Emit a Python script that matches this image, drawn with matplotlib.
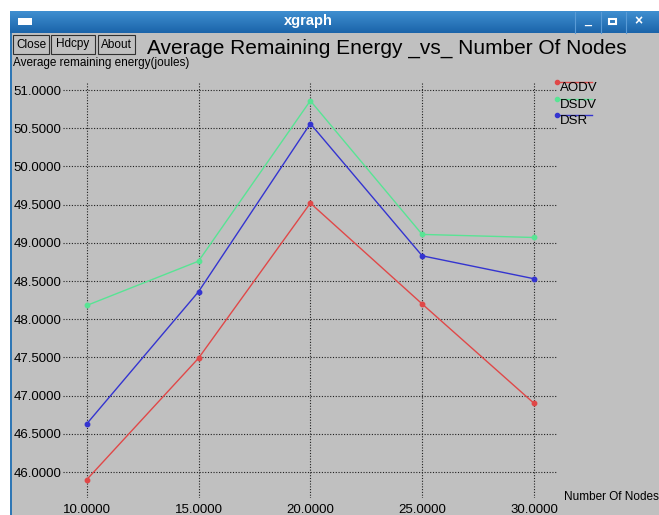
import matplotlib.pyplot as plt
from matplotlib.patches import Rectangle
from matplotlib.lines import Line2D
import numpy as np

plt.rcParams['font.family'] = ['Liberation Sans', 'DejaVu Sans']

# data
nodes = [10, 15, 20, 25, 30]
aodv = [45.90, 47.49, 49.52, 48.20, 46.90]
dsdv = [48.18, 48.76, 50.86, 49.11, 49.07]
dsr = [46.63, 48.36, 50.56, 48.83, 48.53]
series_names = ['AODV', 'DSDV', 'DSR']
series_colors = ['#e04848', '#58e494', '#3434d0']
xticks = [10, 15, 20, 25, 30]
yticks = [46.0, 46.5, 47.0, 47.5, 48.0, 48.5, 49.0, 49.5, 50.0, 50.5, 51.0]

W, H = 659, 515
fig = plt.figure(figsize=(W / 100, H / 100), dpi=100)
fig.patch.set_facecolor('white')

def fx(px):
    return px / W

def fy(py):
    return 1 - py / H

gray = '#c0c0c0'
# window frame
fig.add_artist(Rectangle((fx(10), 0), 1, fy(12), transform=fig.transFigure,
                         facecolor='#2f77b5', edgecolor='none', zorder=0))
fig.add_artist(Rectangle((fx(12), 0), 1, fy(33), transform=fig.transFigure,
                         facecolor=gray, edgecolor='none', zorder=0))
# title bar gradient
grad = np.linspace(0, 1, 30).reshape(-1, 1)
tb = fig.add_axes([fx(10), fy(33), 1 - fx(10), fy(11) - fy(33)])
tb.imshow(grad, aspect='auto', cmap=plt.matplotlib.colors.LinearSegmentedColormap.from_list(
    'tb', ['#3f8fd0', '#1b64aa']), extent=[0, 1, 0, 1], origin='upper')
tb.set_xlim(0, 1)
tb.set_ylim(0, 1)
tb.axis('off')
fig.text(fx(308), fy(21), 'xgraph', color='white', fontsize=10.5, fontweight='bold',
         ha='center', va='center')
fig.add_artist(Rectangle((fx(18), fy(25)), fx(14), fy(18) - fy(25), transform=fig.transFigure,
                         facecolor='white', edgecolor='none'))
for sx in [575, 601, 626]:
    fig.add_artist(Line2D([fx(sx), fx(sx)], [fy(12), fy(33)], transform=fig.transFigure,
                          color='#5a9bd6', lw=0.8))
fig.text(fx(588), fy(21), '_', color='white', fontsize=9, fontweight='bold', ha='center', va='center')
fig.add_artist(Rectangle((fx(609), fy(24)), fx(7), fy(19) - fy(24), transform=fig.transFigure,
                         facecolor='none', edgecolor='white', lw=1.5))
fig.text(fx(638), fy(21), '×', color='white', fontsize=10, fontweight='bold', ha='center', va='center')

# buttons
for label, x0, x1 in [('Close', 13, 49), ('Hdcpy', 51, 95), ('About', 98, 135)]:
    fig.add_artist(Rectangle((fx(x0), fy(54)), fx(x1 - x0), fy(35) - fy(54),
                             transform=fig.transFigure, facecolor=gray,
                             edgecolor='#303030', lw=0.8))
    fig.text(fx((x0 + x1) / 2), fy(44.5), label, fontsize=8.5, ha='center', va='center')

fig.text(fx(147), fy(48), 'Average Remaining Energy _vs_ Number Of Nodes',
         fontsize=15, ha='left', va='center')
fig.text(fx(13), fy(63), 'Average remaining energy(joules)', fontsize=8.5,
         ha='left', va='center')
fig.text(fx(564), fy(497), 'Number Of Nodes', fontsize=8.5, ha='left', va='center')

ax = fig.add_axes([fx(63), fy(498), fx(557) - fx(63), fy(82) - fy(498)])
ax.set_facecolor('none')
for s in ax.spines.values():
    s.set_visible(False)
ax.set_xlim(8.94, 31.03)
ax.set_ylim(45.66, 51.105)
ax.set_xticks(xticks)
ax.set_xticklabels([f'{v:.4f}' for v in xticks])
ax.set_yticks(yticks)
ax.set_yticklabels([f'{v:.4f}' for v in yticks])
ax.tick_params(length=0, labelsize=9.5, pad=1)
ax.tick_params(axis='x', pad=4)
ax.grid(True, color='#202020', linestyle=(0, (1, 1.5)), linewidth=0.8)

for vals, name, col in zip([aodv, dsdv, dsr], series_names, series_colors):
    ax.plot(nodes, vals, color=col, lw=1.0, marker='o', markersize=3.2, label=name,
            clip_on=False)

# xgraph style legend
for i, (name, col) in enumerate(zip(series_names, series_colors)):
    yl = 82 + i * 16.5
    fig.add_artist(Line2D([fx(557), fx(592)], [fy(yl), fy(yl)], transform=fig.transFigure,
                          color=col, lw=1.0))
    fig.add_artist(Line2D([fx(557)], [fy(yl)], transform=fig.transFigure, color=col,
                          marker='o', markersize=3))
    fig.text(fx(560), fy(yl + 6), name, fontsize=9.5, ha='left', va='center')

fig.savefig('out.png', dpi=100)
